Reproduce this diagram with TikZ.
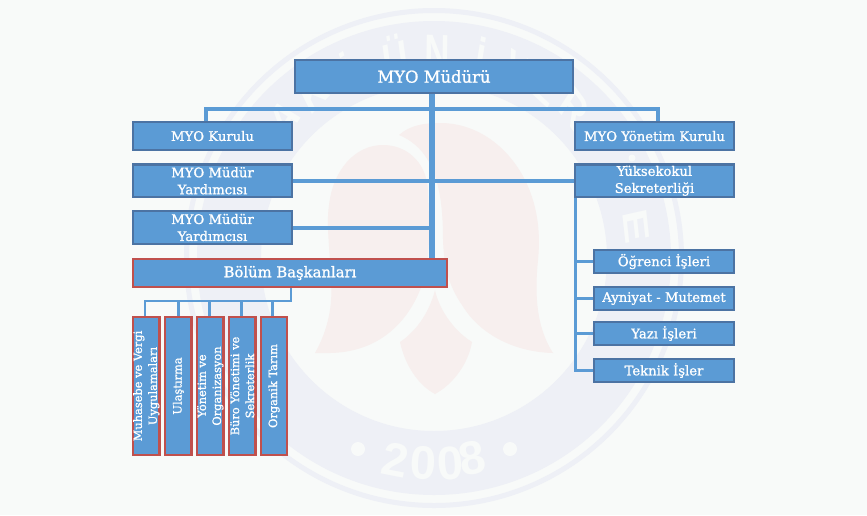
\documentclass[tikz,border=0pt]{standalone}
\usepackage{fontspec}
\setmainfont{DejaVu Serif}[FakeBold=1]
\newfontfamily\wmfont{Liberation Sans}[BoldFont={Liberation Sans Bold}]
\usepackage{tikz}
\usetikzlibrary{backgrounds}
\definecolor{pagebg}{HTML}{F8FAF9}
\definecolor{wmband}{HTML}{EEF0F6}
\definecolor{wmflame}{HTML}{F7EFEE}
\definecolor{boxfill}{HTML}{5B9BD5}
\definecolor{boxblue}{HTML}{4C73A3}
\definecolor{boxred}{HTML}{C0504D}
\begin{document}
\begin{tikzpicture}[
        x=1pt, y=-1pt,
        box/.style={draw=boxblue, fill=boxfill, line width=2.4pt, inner sep=0pt, align=center, text=white, font=\fontsize{13.2}{17}\selectfont},
        sidebox/.style={box, minimum width=159pt},
        subbox/.style={box, minimum width=140pt, minimum height=23pt},
        redbox/.style={box, draw=boxred},
        vertbox/.style={redbox, minimum width=138pt, minimum height=26.5pt, rotate=90, font=\fontsize{11.4}{15}\selectfont},
        conn/.style={draw=boxfill, line width=4pt},
        thinconn/.style={draw=boxfill, line width=2.6pt},
        wmletter/.style={text=pagebg, font=\wmfont\bfseries\fontsize{50}{50}\selectfont, xscale=0.7, inner sep=0pt},
        wmdigit/.style={text=pagebg, font=\wmfont\bfseries\fontsize{47}{47}\selectfont, inner sep=0pt}
    ]
        \useasboundingbox (0,0) rectangle (867,515);

        \node[box, minimum width=278pt, minimum height=33pt, font=\fontsize{16.4}{17}\selectfont] (mudur) at (434,76.5) {MYO Müdürü};
        \node[sidebox, minimum height=28pt]   (kurul)  at (212.5,136)    {MYO Kurulu};
        \node[sidebox, minimum height=32.5pt] (yard1)  at (212.5,180.75) {MYO Müdür\\Yardımcısı};
        \node[sidebox, minimum height=33pt]   (yard2)  at (212.5,227.5)  {MYO Müdür\\Yardımcısı};
        \node[sidebox, minimum height=28pt]   (yonet)  at (654.5,136)    {MYO Yönetim Kurulu};
        \node[sidebox, minimum height=32.5pt] (sekr)   at (654.5,180.75) {Yüksekokul\\Sekreterliği};
        \node[redbox, minimum width=314pt, minimum height=28pt, font=\fontsize{14.8}{17}\selectfont] (bolum) at (290,273) {Bölüm Başkanları};

        \node[subbox] (ogr)  at (664,261.5) {Öğrenci İşleri};
        \node[subbox] (ayn)  at (664,298.5) {Ayniyat - Mutemet};
        \node[subbox] (yazi) at (664,333.5) {Yazı İşleri};
        \node[subbox] (tek)  at (664,370.5) {Teknik İşler};

        \node[vertbox] (muh) at (146.3,386) {Muhasebe  ve Vergi\\Uygulamaları};
        \node[vertbox] (ula) at (178.3,386) {Ulaştırma};
        \node[vertbox] (org) at (210.3,386) {Yönetim ve\\Organizasyon};
        \node[vertbox] (bur) at (242.3,386) {Büro Yönetimi ve\\Sekreterlik};
        \node[vertbox] (tar) at (274,386)   {Organik Tarım};

        \coordinate (t1) at (432,94);
        \coordinate (k1) at (206,121);
        \coordinate (y1) at (658,121);
        \coordinate (b1) at (291,288);
        \coordinate (s1) at (575.5,198);

        \begin{scope}[on background layer]
            % watermark
            \fill[pagebg] (0,0) rectangle (867,515);
            \draw[wmband, line width=5pt]  (434,258) circle[radius=247.5];
            \draw[wmband, line width=64pt] (434,258) circle[radius=205];
            \foreach \l/\a in {Ü/-11, N/1, İ/13, V/24, E/33, R/43, E/81, İ/-25, K/-36, A/-47}
                \node[wmletter, rotate=-\a] (wm\a) at ({434+205*sin(\a)},{258-205*cos(\a)}) {\l};
            \fill[pagebg] (632,158) circle[radius=3.5];
            \foreach \l/\px/\py/\r in {2/395/460/-11, 0/423/463/-3, 0/450/463/4, 8/472/458/11}
                \node[wmdigit, rotate=\r] (dg\px) at (\px,\py) {\l};
            \fill[pagebg] (358,449) circle[radius=7];
            \fill[pagebg] (510,449) circle[radius=7];
            \fill[wmflame] (315,353) .. controls (328,330) and (333,305) .. (331,280)
                .. controls (330,250) and (326,225) .. (329,205)
                .. controls (333,170) and (355,145) .. (383,145)
                .. controls (405,145) and (426,160) .. (428,190)
                .. controls (430,240) and (430,265) .. (420,290)
                .. controls (410,315) and (385,352) .. (330,353) -- cycle;
            \fill[wmflame] (399,135) .. controls (410,125) and (425,123) .. (440,123)
                .. controls (480,123) and (510,150) .. (525,180)
                .. controls (540,210) and (540,240) .. (538,260)
                .. controls (535,290) and (535,325) .. (553,353)
                .. controls (515,352) and (480,335) .. (462,305)
                .. controls (448,285) and (444,265) .. (443,240)
                .. controls (443,190) and (435,150) .. (399,135) -- cycle;
            \fill[wmflame] (435,290) .. controls (438,305) and (450,328) .. (472,342)
                .. controls (468,365) and (452,385) .. (435,394)
                .. controls (418,385) and (405,365) .. (400,342)
                .. controls (418,330) and (430,310) .. (435,290) -- cycle;

            % connectors
            \draw[conn, line width=5.5pt] (t1) -- (t1 |- bolum.north);
            \draw[conn] (k1) -- ++(0,-12) -| (y1);
            \draw[conn] (yard1.east) -- (sekr.west);
            \draw[conn] (yard2.east) -- (yard2.east -| t1);

            \draw[thinconn] (b1) -- ++(0,13) coordinate (b2) -| (145,316);
            \draw[thinconn] (b2 -| ula.east) -- (ula.east);
            \draw[thinconn] (b2 -| 209.3,0) -- (209.3,316);
            \draw[thinconn] (b2 -| 241.3,0) -- (241.3,316);
            \draw[thinconn] (b2 -| 272.7,0) -- (272.7,316);

            \draw[conn, line width=3.5pt] (s1) -- (s1 |- tek.west) -- (tek.west);
            \draw[conn, line width=3pt] (s1 |- ogr.west) -- (ogr.west);
            \draw[conn, line width=3pt] (s1 |- ayn.west) -- (ayn.west);
            \draw[conn, line width=3pt] (s1 |- yazi.west) -- (yazi.west);
        \end{scope}
    \end{tikzpicture}
\end{document}
